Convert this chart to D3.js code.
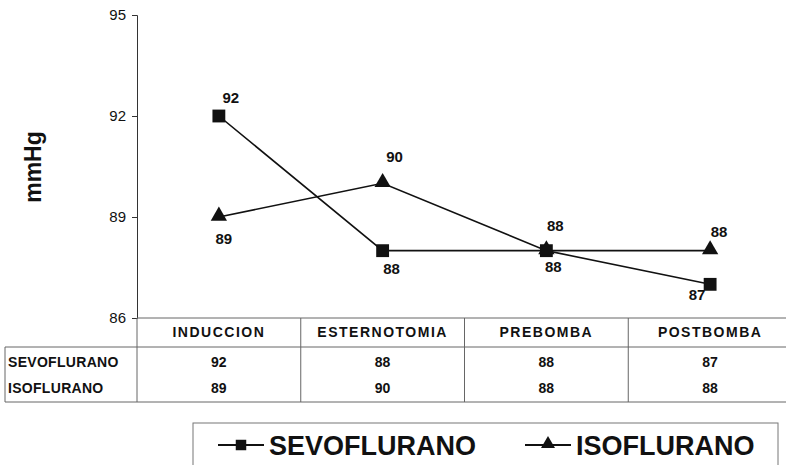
<!DOCTYPE html>
<html><head><meta charset="utf-8">
<script src="https://cdn.jsdelivr.net/npm/d3@7"></script>
<style>body{margin:0;background:#fff}svg{display:block;font-family:Arial,"Liberation Sans",sans-serif}</style>
</head><body><svg id="c" width="786" height="465"></svg>
<script>
const categories = ["INDUCCION","ESTERNOTOMIA","PREBOMBA","POSTBOMBA"];
const seriesNames = ["SEVOFLURANO","ISOFLURANO"];
const sevoflurano = [92,88,88,87];
const isoflurano = [89,90,88,88];
const yTicks = [86,89,92,95];
const yLabel = "mmHg";

const svg = d3.select("#c");
const x = d3.scaleBand().domain(categories).range([137,792]);
const y = d3.scaleLinear().domain([86,95]).range([318,15]);
const ink = "#111";

// y axis
const ya = svg.append("g").attr("transform","translate(137,0)")
  .call(d3.axisLeft(y).tickValues(yTicks).tickSize(5).tickPadding(6));
ya.select(".domain").attr("stroke","#333");
ya.selectAll(".tick line").attr("stroke","#333");
ya.selectAll(".tick text").attr("font-size",15).attr("fill",ink).attr("font-family","Arial");

svg.append("text").attr("transform","translate(41,167) rotate(-90)")
  .attr("text-anchor","middle").attr("font-size",23).attr("font-weight","bold").attr("fill",ink).text(yLabel);

// table
const tLeft = 5, tRight = 786, hdrB = 347, tBot = 402;
const tbl = svg.append("g").attr("stroke","#666").attr("stroke-width",1);
tbl.append("line").attr("x1",137).attr("x2",tRight).attr("y1",318).attr("y2",318);
tbl.append("line").attr("x1",tLeft).attr("x2",tRight).attr("y1",hdrB).attr("y2",hdrB);
tbl.append("line").attr("x1",tLeft).attr("x2",tRight).attr("y1",tBot).attr("y2",tBot);
tbl.append("line").attr("x1",tLeft).attr("x2",tLeft).attr("y1",hdrB).attr("y2",tBot);
categories.forEach((c,i)=>{
  tbl.append("line").attr("x1",x(c)).attr("x2",x(c)).attr("y1",318).attr("y2",tBot);
});
const tt = svg.append("g").attr("font-size",14).attr("font-weight","bold").attr("fill",ink);
categories.forEach(c=>{
  tt.append("text").attr("x",x(c)+x.bandwidth()/2).attr("y",337).attr("text-anchor","middle")
    .attr("letter-spacing",1.5).text(c);
});
const rows = [sevoflurano, isoflurano];
const rowY = [367,393];
rows.forEach((vals,r)=>{
  tt.append("text").attr("x",8).attr("y",rowY[r]).attr("letter-spacing",0.3).text(seriesNames[r]);
  vals.forEach((v,i)=>{
    tt.append("text").attr("x",x(categories[i])+x.bandwidth()/2).attr("y",rowY[r]).attr("text-anchor","middle").text(v);
  });
});

// lines
const cx = c => x(c)+x.bandwidth()/2;
const line = d3.line().x((d,i)=>cx(categories[i])).y(d=>y(d));
svg.append("path").datum(sevoflurano).attr("d",line).attr("fill","none").attr("stroke",ink).attr("stroke-width",1.6);
svg.append("path").datum(isoflurano).attr("d",line).attr("fill","none").attr("stroke",ink).attr("stroke-width",1.6);

const sq = d3.symbol().type(d3.symbolSquare).size(165);
const tri = d3.symbol().type(d3.symbolTriangle).size(115);
svg.selectAll(".s").data(sevoflurano).join("path")
  .attr("transform",(d,i)=>`translate(${cx(categories[i])},${y(d)})`).attr("d",sq).attr("fill",ink);
svg.selectAll(".t").data(isoflurano).join("path")
  .attr("transform",(d,i)=>`translate(${cx(categories[i])},${y(d)-1})`).attr("d",tri).attr("fill",ink);

// data labels
const sevoOff = [[12,-13],[9,23],[7,21],[-13,16]];
const isoOff = [[5,27],[12,-21],[9,-20],[9,-14]];
const lab = svg.append("g").attr("font-size",15).attr("font-weight","bold").attr("fill",ink).attr("text-anchor","middle");
sevoflurano.forEach((v,i)=>lab.append("text").attr("x",cx(categories[i])+sevoOff[i][0]).attr("y",y(v)+sevoOff[i][1]).text(v));
isoflurano.forEach((v,i)=>lab.append("text").attr("x",cx(categories[i])+isoOff[i][0]).attr("y",y(v)+isoOff[i][1]).text(v));

// legend
const lg = svg.append("g");
lg.append("rect").attr("x",193).attr("y",423).attr("width",585).attr("height",50).attr("fill","#fff").attr("stroke","#777");
const legX = [218,525];
const lsq = d3.symbol().type(d3.symbolSquare).size(110);
const ltri = d3.symbol().type(d3.symbolTriangle).size(85);
seriesNames.forEach((n,i)=>{
  const g = lg.append("g").attr("transform",`translate(${legX[i]},445)`);
  g.append("line").attr("x1",0).attr("x2",46).attr("stroke",ink).attr("stroke-width",2);
  g.append("path").attr("transform",`translate(23,${i?-1:0})`).attr("d",i?ltri:lsq).attr("fill",ink);
  g.append("text").attr("x",51).attr("y",10).attr("font-size",27).attr("font-weight","bold").attr("fill",ink).text(n);
});
</script></body></html>
